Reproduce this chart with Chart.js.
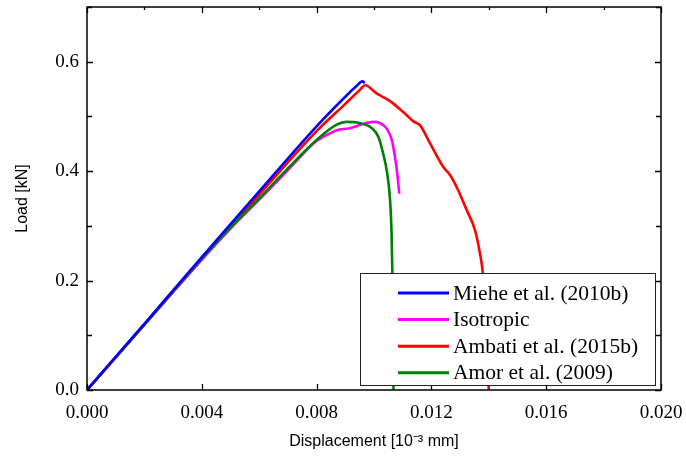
<!DOCTYPE html>
<html>
<head>
<meta charset="utf-8">
<script src="https://cdn.jsdelivr.net/npm/chart.js@4/dist/chart.umd.min.js"></script>
<style>
  html, body { margin: 0; padding: 0; background: #fff; }
  #wrap { width: 686px; height: 459px; }
</style>
</head>
<body>
<div id="wrap"><canvas id="c" width="686" height="459"></canvas></div>
<script>
// ---- Data ----
const seriesNames = ['Miehe et al. (2010b)', 'Isotropic', 'Ambati et al. (2015b)', 'Amor et al. (2009)'];
const seriesColors = ['#0000ff', '#ff00ff', '#ff0000', '#008000'];

const mieheX = [0, 0.002, 0.004, 0.006, 0.008, 0.009, 0.0094, 0.0096, 0.00968];
const mieheY = [0, 0.121, 0.243, 0.363, 0.482, 0.536, 0.556, 0.564, 0.561];

const isoX = [0, 0.002, 0.004, 0.005, 0.006, 0.007, 0.0075, 0.008, 0.0085, 0.0088, 0.0092, 0.0096, 0.0100, 0.0102, 0.01044, 0.01062, 0.01073, 0.01081, 0.01088];
const isoY = [0, 0.120, 0.238, 0.295, 0.348, 0.402, 0.430, 0.455, 0.470, 0.476, 0.479, 0.486, 0.490, 0.488, 0.478, 0.457, 0.426, 0.396, 0.359];

const ambatiX = [0, 0.002, 0.004, 0.006, 0.008, 0.009, 0.0095, 0.00969, 0.01009, 0.01056, 0.01102, 0.01137, 0.0116, 0.01195, 0.01241, 0.01265, 0.01288, 0.01323, 0.01352, 0.01369, 0.01379, 0.0139, 0.0140];
const ambatiY = [0, 0.119, 0.239, 0.357, 0.473, 0.523, 0.548, 0.557, 0.542, 0.528, 0.508, 0.491, 0.484, 0.451, 0.408, 0.393, 0.371, 0.329, 0.292, 0.250, 0.214, 0.12, 0.0];

const amorX = [0, 0.002, 0.004, 0.005, 0.006, 0.007, 0.008, 0.0087, 0.00905, 0.0095, 0.00992, 0.01015, 0.01032, 0.01046, 0.01056, 0.01061, 0.01064, 0.01066, 0.01068];
const amorY = [0, 0.120, 0.240, 0.297, 0.350, 0.405, 0.457, 0.485, 0.490, 0.488, 0.479, 0.463, 0.432, 0.396, 0.347, 0.290, 0.214, 0.12, 0.0];

const xTickStep = 0.004, xMinorStep = 0.002, xMin = 0, xMax = 0.02;
const yTickStep = 0.2, yMinorStep = 0.1, yMin = 0, yMax = 0.7;

const xTitle = 'Displacement [10\u207B\u00B3 mm]';
const yTitle = 'Load [kN]';

// ---- Build datasets ----
function pts(xs, ys) { return xs.map((x, i) => ({ x: x, y: ys[i] })); }
const allX = [mieheX, isoX, ambatiX, amorX];
const allY = [mieheY, isoY, ambatiY, amorY];
const datasets = seriesNames.map((name, i) => ({
  label: name,
  data: pts(allX[i], allY[i]),
  borderColor: seriesColors[i],
  backgroundColor: seriesColors[i],
  borderWidth: 2.6,
  pointRadius: 0,
  showLine: true,
  cubicInterpolationMode: 'monotone',
  fill: false
}));
datasets.forEach((d, i) => { d.order = [0, 2, 3, 1][i]; });

// ---- Frame + inward ticks + legend plugin ----
const framePlugin = {
  id: 'frame',
  afterDatasetsDraw(chart) {
    const ctx = chart.ctx, a = chart.chartArea;
    const xs = chart.scales.x, ys = chart.scales.y;
    ctx.save();
    ctx.strokeStyle = '#000';
    ctx.lineWidth = 1.5;
    ctx.strokeRect(a.left, a.top, a.right - a.left, a.bottom - a.top);
    ctx.lineWidth = 1.3;
    ctx.beginPath();
    const eps = 1e-9;
    for (let v = xMin; v <= xMax + eps; v += xMinorStep) {
      const px = Math.round(xs.getPixelForValue(v)) + 0.5;
      const major = Math.abs(v / xTickStep - Math.round(v / xTickStep)) < 1e-6;
      if (major) {
        ctx.moveTo(px, a.bottom); ctx.lineTo(px, a.bottom - 6);
        ctx.moveTo(px, a.top); ctx.lineTo(px, a.top + 6);
      } else {
        ctx.moveTo(px, a.top); ctx.lineTo(px, a.top + 3);
      }
    }
    for (let v = yMin; v <= yMax + eps; v += yMinorStep) {
      const py = Math.round(ys.getPixelForValue(v)) + 0.5;
      const major = Math.abs(v / yTickStep - Math.round(v / yTickStep)) < 1e-6;
      const len = major ? 6 : 5;
      ctx.moveTo(a.left, py); ctx.lineTo(a.left + len, py);
      ctx.moveTo(a.right, py); ctx.lineTo(a.right - len, py);
    }
    ctx.stroke();

    // legend box
    const bw = 295, bh = 112;
    const bx = a.right - 6 - bw, by = a.bottom - 5 - bh;
    ctx.fillStyle = '#fff';
    ctx.fillRect(bx, by, bw, bh);
    ctx.strokeStyle = '#222';
    ctx.lineWidth = 1;
    ctx.strokeRect(Math.round(bx) + 0.5, Math.round(by) + 0.5, bw, bh);
    ctx.font = '21.5px "Liberation Serif", "Times New Roman", serif';
    ctx.textBaseline = 'middle';
    ctx.textAlign = 'left';
    chart.data.datasets.forEach((d, i) => {
      const cy = by + 20 + i * 26.6;
      ctx.strokeStyle = d.borderColor;
      ctx.lineWidth = 3;
      ctx.beginPath();
      ctx.moveTo(bx + 38, cy); ctx.lineTo(bx + 89, cy);
      ctx.stroke();
      ctx.fillStyle = '#000';
      ctx.fillText(d.label, bx + 93, cy + 1);
    });
    ctx.restore();
  }
};

const tickFont = { family: '"Liberation Serif", "Times New Roman", serif', size: 19 };
const titleFont = { family: '"Liberation Sans", Arial, sans-serif', size: 16 };

function zeroPad(s) { s.paddingLeft = 0; s.paddingRight = 0; s.paddingTop = 0; s.paddingBottom = 0; }

new Chart(document.getElementById('c'), {
  type: 'scatter',
  data: { datasets: datasets },
  options: {
    responsive: false,
    animation: false,
    devicePixelRatio: 1,
    layout: { padding: { top: 7, right: 25, left: 0, bottom: 0 } },
    plugins: { legend: { display: false }, tooltip: { enabled: false } },
    scales: {
      x: {
        type: 'linear', min: xMin, max: xMax,
        grid: { display: false, drawTicks: false },
        border: { display: false },
        ticks: {
          stepSize: xTickStep, includeBounds: false, padding: 12, color: '#000', font: tickFont,
          maxRotation: 0, autoSkip: false,
          callback: v => Number(v).toFixed(3)
        },
        title: { display: true, text: xTitle, color: '#000', font: titleFont, padding: { top: 0, bottom: 8 } },
        afterFit(s) { s.height = 69; zeroPad(s); }
      },
      y: {
        type: 'linear', min: yMin, max: yMax,
        grid: { display: false, drawTicks: false },
        border: { display: false },
        ticks: {
          stepSize: yTickStep, includeBounds: false, padding: 8, color: '#000', font: tickFont,
          callback: v => Number(v).toFixed(1)
        },
        afterBuildTicks(s) { s.ticks = s.ticks.filter(t => Math.abs(t.value / yTickStep - Math.round(t.value / yTickStep)) < 1e-6); },
        title: { display: true, text: yTitle, color: '#000', font: titleFont, padding: { top: 13, bottom: 0 } },
        afterFit(s) { s.width = 87; zeroPad(s); }
      }
    }
  },
  plugins: [framePlugin]
});
</script>
</body>
</html>
